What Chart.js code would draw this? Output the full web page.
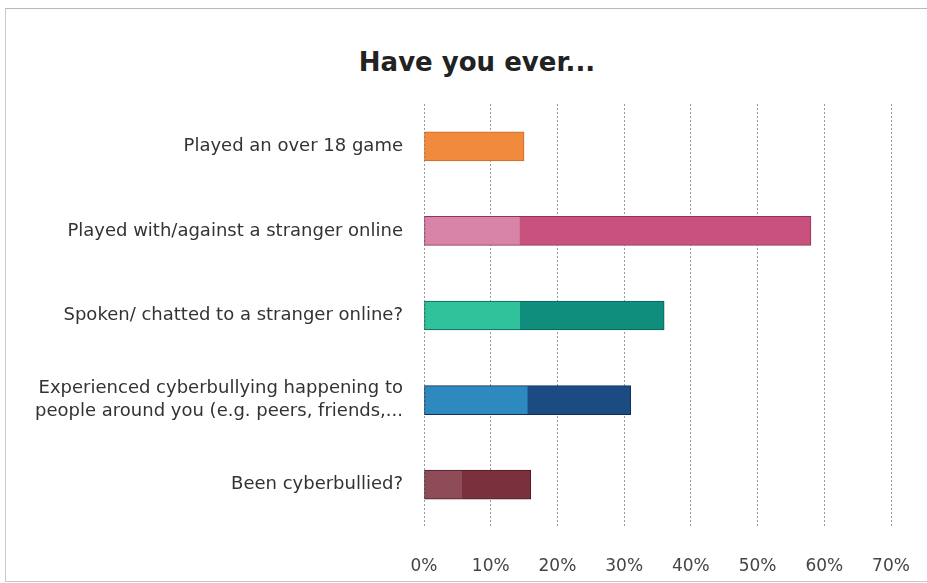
<!DOCTYPE html>
<html>
<head>
<meta charset="utf-8">
<script src="https://cdn.jsdelivr.net/npm/chart.js@4"></script>
<style>
  html, body { margin: 0; padding: 0; background: #fff; overflow: hidden; }
  #frame {
    position: absolute; left: 5px; top: 8px; width: 922px; height: 572px;
    border-left: 1px solid #c8c8c8; border-top: 1px solid #b8b8b8; border-bottom: 1px solid #c8c8c8;
  }
  #title {
    position: absolute; left: 27px; top: 44px; width: 900px; text-align: center;
    font: bold 26px 'DejaVu Sans'; line-height: 36px; color: #222;
  }
  #wrap { position: absolute; left: 0; top: 0; width: 927px; height: 583px; }
</style>
</head>
<body>
<div id="frame"></div>
<div id="title">Have you ever...</div>
<div id="wrap"><canvas id="chart"></canvas></div>
<script>
const categories = [
    'Played an over 18 game',
    'Played with/against a stranger online',
    'Spoken/ chatted to a stranger online?',
    ['Experienced cyberbullying happening to', 'people around you (e.g. peers, friends,...'],
    'Been cyberbullied?'
];
const percentages = [15, 58, 36, 31, 16];
const xTicks = [0, 10, 20, 30, 40, 50, 60, 70];

// each bar is a lighter tone up to this value, then the main tone
const shadeSplit = [0, 14.3, 14.4, 15.5, 5.7];
const lightColors = ['#f08a3c', '#d883a8', '#30c29b', '#2d89be', '#8e4c58'];
const mainColors = ['#f08a3c', '#c9517e', '#0f8d7d', '#1c4b84', '#7b303d'];
const edgeColors = ['#c8682a', '#8f3457', '#0a5f55', '#102f57', '#4e1c25'];

const ctx = document.getElementById('chart').getContext('2d');

function barFill(context) {
    const i = context.dataIndex;
    const chart = context.chart;
    if (!chart.chartArea || shadeSplit[i] <= 0) return mainColors[i];
    const x = chart.scales.x;
    const x0 = x.getPixelForValue(0);
    const x1 = x.getPixelForValue(percentages[i]);
    const t = (x.getPixelForValue(shadeSplit[i]) - x0) / (x1 - x0);
    const g = chart.ctx.createLinearGradient(x0, 0, x1, 0);
    g.addColorStop(0, lightColors[i]);
    g.addColorStop(t, lightColors[i]);
    g.addColorStop(Math.min(1, t + 0.001), mainColors[i]);
    g.addColorStop(1, mainColors[i]);
    return g;
}

new Chart(ctx, {
    type: 'bar',
    data: {
        labels: categories,
        datasets: [{
            data: percentages,
            backgroundColor: barFill,
            borderColor: edgeColors,
            borderWidth: 1,
            borderSkipped: false,
            barThickness: 29
        }]
    },
    options: {
        indexAxis: 'y',
        responsive: true,
        maintainAspectRatio: false,
        animation: false,
        layout: { padding: { left: 0, right: 36, top: 104, bottom: 0 } },
        plugins: {
            legend: { display: false },
            tooltip: { enabled: false },
            title: { display: false }
        },
        scales: {
            x: {
                min: 0,
                max: 70,
                afterBuildTicks: (axis) => { axis.ticks = xTicks.map(v => ({ value: v })); },
                afterFit: (axis) => {
                    axis.height = 56;
                    // the last tick label fits in the right padding already
                    axis.paddingRight = 0;
                },
                grid: {
                    color: '#9a9a9a',
                    lineWidth: 1,
                    drawTicks: false
                },
                border: { display: false, dash: [2, 2] },
                ticks: {
                    padding: 29,
                    color: '#444',
                    font: { family: 'DejaVu Sans', size: 17 },
                    callback: (v) => v + '%'
                }
            },
            y: {
                afterFit: (axis) => { axis.width = 424; },
                grid: { display: false, drawTicks: false },
                border: { display: false },
                ticks: {
                    padding: 21,
                    color: '#333',
                    font: { family: 'DejaVu Sans', size: 18, lineHeight: 1.3 }
                }
            }
        }
    }
});
</script>
</body>
</html>
